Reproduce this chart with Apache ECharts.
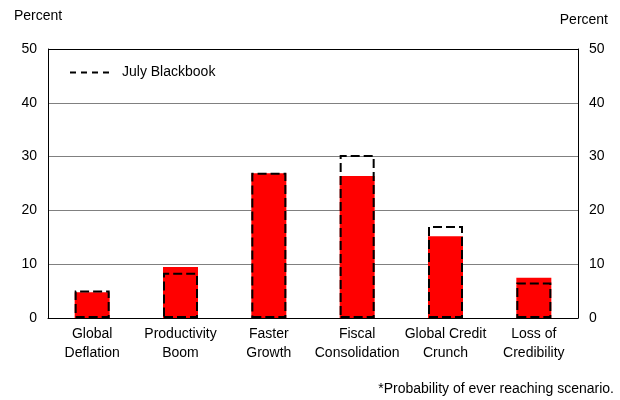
<!DOCTYPE html>
<html>
<head>
<meta charset="utf-8">
<script src="https://cdn.jsdelivr.net/npm/echarts@6/dist/echarts.min.js"></script>
<style>
html,body{margin:0;padding:0;background:#fff;}
#c{width:620px;height:400px;}
</style>
</head>
<body>
<div id="c"></div>
<script>
var categories = ['Global\nDeflation', 'Productivity\nBoom', 'Faster\nGrowth', 'Fiscal\nConsolidation', 'Global Credit\nCrunch', 'Loss of\nCredibility'];
var currentValues = [4.8, 9.5, 26.9, 26.4, 15.2, 7.5];
var julyBlackbook = [5.1, 8.4, 27.0, 30.3, 17.1, 6.6];
var yTicks = [0, 10, 20, 30, 40, 50];

// choose a condensed font if one is installed
function hasFont(name) {
  var ctx = document.createElement('canvas').getContext('2d');
  var s = 'Consolidation Probability';
  ctx.font = '20px monospace'; var a = ctx.measureText(s).width;
  ctx.font = '20px "' + name + '", monospace'; var b = ctx.measureText(s).width;
  ctx.font = '20px serif'; var c = ctx.measureText(s).width;
  ctx.font = '20px "' + name + '", serif'; var d = ctx.measureText(s).width;
  return a !== b || c !== d;
}
var FONT, FS;
if (hasFont('Liberation Sans Narrow')) { FONT = '"Liberation Sans Narrow"'; FS = 17; }
else { FONT = '"Liberation Sans", Arial, sans-serif'; FS = 14; }

var chart = echarts.init(document.getElementById('c'), null, {renderer: 'canvas'});
var gridColors = yTicks.map(function (t, i) { return (i === 0 || i === yTicks.length - 1) ? '#000' : '#808080'; });

var yAxisBase = function (pos) {
  return {
    type: 'value', position: pos, min: 0, max: 50, interval: 10,
    axisLine: {show: true, lineStyle: {color: '#000', width: 1}},
    axisTick: {show: false},
    axisLabel: {color: '#000', fontFamily: FONT, fontSize: FS, margin: 11},
    splitLine: {show: pos === 'left', lineStyle: {color: gridColors, width: 1}}
  };
};

chart.setOption({
  animation: false,
  grid: {left: 48, right: 42, top: 49, bottom: 82, containLabel: false},
  xAxis: {
    type: 'category', data: categories,
    axisLine: {show: true, lineStyle: {color: '#000', width: 1}},
    axisTick: {show: false},
    axisLabel: {color: '#000', fontFamily: FONT, fontSize: FS, lineHeight: 19, margin: 7, interval: 0}
  },
  yAxis: [yAxisBase('left'), yAxisBase('right')],
  series: [
    {
      name: 'Current', type: 'bar', data: currentValues, barWidth: 35, barGap: '-100%',
      itemStyle: {color: '#ff0000'}, z: 2
    },
    {
      name: 'July Blackbook', type: 'bar', data: julyBlackbook, barWidth: 35, barGap: '-100%',
      itemStyle: {color: 'rgba(0,0,0,0)', borderColor: '#000', borderWidth: 2, borderType: [9, 4]}, z: 3
    }
  ],
  graphic: [
    {type: 'text', x: 14, y: 16, style: {text: 'Percent', font: FS + 'px ' + FONT, fill: '#000', align: 'left', verticalAlign: 'middle'}},
    {type: 'text', x: 608, y: 20, style: {text: 'Percent', font: FS + 'px ' + FONT, fill: '#000', align: 'right', verticalAlign: 'middle'}},
    {type: 'line', shape: {x1: 70, y1: 72.5, x2: 110, y2: 72.5}, style: {stroke: '#000', lineWidth: 2, lineDash: [6, 5]}},
    {type: 'text', x: 122, y: 72, style: {text: 'July Blackbook', font: FS + 'px ' + FONT, fill: '#000', align: 'left', verticalAlign: 'middle'}},
    {type: 'text', x: 614, y: 389, style: {text: '*Probability of ever reaching scenario.', font: FS + 'px ' + FONT, fill: '#000', align: 'right', verticalAlign: 'middle'}}
  ]
});
</script>
</body>
</html>
